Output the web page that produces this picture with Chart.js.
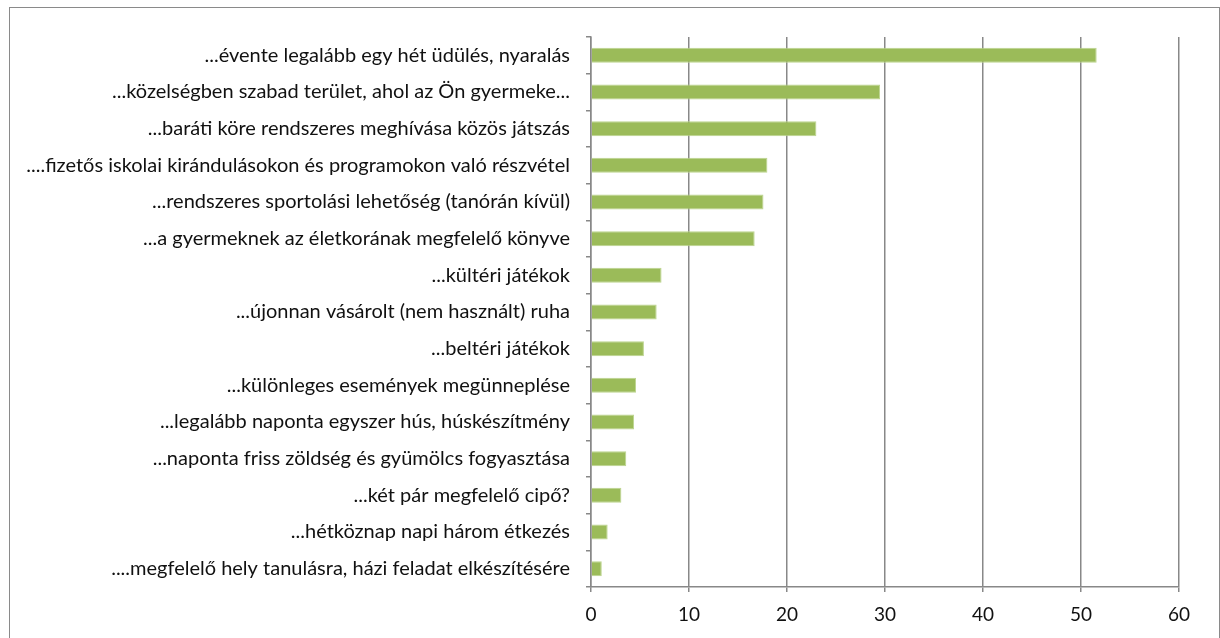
<!DOCTYPE html>
<html>
<head>
<meta charset="utf-8">
<script src="https://cdn.jsdelivr.net/npm/chart.js@4"></script>
<style>
  html, body { margin: 0; padding: 0; background: #fff; overflow: hidden; }
  #frame {
    position: absolute; left: 9px; top: 7px; width: 1211px; height: 700px;
    border: 1.5px solid #8a8a8a; box-sizing: border-box;
  }
  #wrap { position: absolute; left: 0; top: 0; width: 1220px; height: 638px; }
</style>
</head>
<body>
<div id="frame"></div>
<div id="wrap"><canvas id="myChart" width="1220" height="638"></canvas></div>
<script>
// categories, top to bottom
var labels = [
  "...évente legalább egy hét üdülés, nyaralás",
  "...közelségben szabad terület, ahol az Ön gyermeke...",
  "...baráti köre rendszeres meghívása közös játszás",
  "....fizetős iskolai kirándulásokon és programokon való részvétel",
  "...rendszeres sportolási lehetőség (tanórán kívül)",
  "...a gyermeknek az életkorának megfelelő könyve",
  "...kültéri játékok",
  "...újonnan vásárolt (nem használt) ruha",
  "...beltéri játékok",
  "...különleges események megünneplése",
  "...legalább naponta egyszer hús, húskészítmény",
  "...naponta friss zöldség és gyümölcs fogyasztása",
  "...két pár megfelelő cipő?",
  "...hétköznap napi három étkezés",
  "....megfelelő hely tanulásra, házi feladat elkészítésére"
];

var values = [51.6, 29.5, 23.0, 18.0, 17.6, 16.7, 7.2, 6.7, 5.4, 4.6, 4.4, 3.6, 3.1, 1.7, 1.1];

var xTicks = [0, 10, 20, 30, 40, 50, 60];

(function() {
  'use strict';

  var gridGrey = '#888888';
  var fontFamily = 'Lato, "Open Sans", sans-serif';

  var ctx = document.getElementById('myChart').getContext('2d');
  var chart = new Chart(ctx, {
    type: 'bar',
    data: {
      labels: labels,
      datasets: [{
        data: values,
        backgroundColor: '#9bbb59',
        borderColor: '#bcd48e',
        borderWidth: 1,
        categoryPercentage: 1.0,
        barPercentage: 0.41
      }]
    },
    options: {
      indexAxis: 'y',
      responsive: false,
      animation: false,
      layout: { padding: { left: 0, right: 41, top: 37, bottom: 0 } },
      plugins: {
        legend: { display: false },
        tooltip: { enabled: false }
      },
      scales: {
        x: {
          min: 0,
          max: 60,
          afterBuildTicks: function(scale) {
            scale.ticks = xTicks.map(function(v) { return { value: v }; });
          },
          afterFit: function(scale) { scale.height = 51; },
          grid: {
            color: gridGrey,
            lineWidth: 1.5,
            tickLength: 5,
            drawTicks: true
          },
          border: { color: gridGrey, width: 1.5 },
          ticks: {
            color: '#111111',
            padding: 11,
            font: { family: fontFamily, size: 19 }
          }
        },
        y: {
          afterFit: function(scale) { scale.width = 591; },
          grid: {
            drawOnChartArea: false,
            drawTicks: true,
            tickLength: 5,
            color: gridGrey,
            lineWidth: 1.5
          },
          border: { color: gridGrey, width: 1.5 },
          ticks: {
            color: '#111111',
            padding: 16,
            autoSkip: false,
            font: { family: fontFamily, size: 20 }
          }
        }
      }
    }
  });
})();
</script>
</body>
</html>
